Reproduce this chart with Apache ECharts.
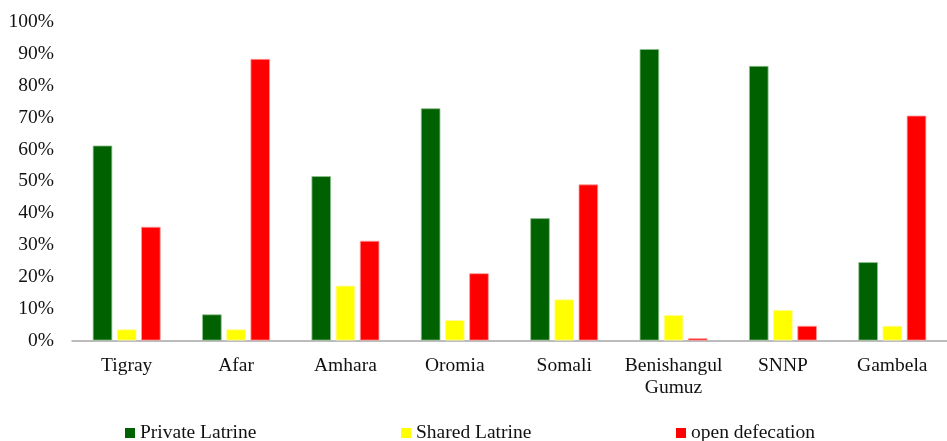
<!DOCTYPE html>
<html>
<head>
<meta charset="utf-8">
<script src="https://cdn.jsdelivr.net/npm/echarts@6/dist/echarts.min.js"></script>
<style>
  html, body { margin: 0; padding: 0; background: #fff; }
  #chart { width: 947px; height: 441px; }
</style>
</head>
<body>
<div id="chart"></div>
<script>
// Regions of Ethiopia and share of households by sanitation type (%)
const regions = ['Tigray', 'Afar', 'Amhara', 'Oromia', 'Somali', 'Benishangul\nGumuz', 'SNNP', 'Gambela'];
const privateLatrine = [61.2, 8.2, 51.6, 72.9, 38.4, 91.5, 86.2, 24.6];
const sharedLatrine  = [3.5, 3.5, 17.2, 6.4, 12.9, 8.0, 9.6, 4.6];
const openDefecation = [35.7, 88.4, 31.3, 21.1, 49.0, 0.7, 4.6, 70.6];
const yTicks = [0, 10, 20, 30, 40, 50, 60, 70, 80, 90, 100];

const serif = '"Liberation Serif", "Times New Roman", serif';
const chart = echarts.init(document.getElementById('chart'), null, { renderer: 'canvas' });

function barSeries(name, data, color, border) {
  return {
    name: name,
    type: 'bar',
    data: data,
    barWidth: 19.5,
    barGap: '24%',
    itemStyle: { color: color, borderColor: border, borderWidth: 0.8 }
  };
}

function legendAt(name, left) {
  return {
    data: [name],
    left: left,
    top: 423,
    icon: 'rect',
    itemWidth: 10,
    itemHeight: 10,
    padding: 0,
    itemStyle: { borderWidth: 0 },
    textStyle: { fontFamily: serif, fontSize: 19.5, color: '#111' }
  };
}

chart.setOption({
  animation: false,
  backgroundColor: '#fff',
  grid: { left: 72, right: -10, top: 22, bottom: 100.5, containLabel: false },
  legend: [
    legendAt('Private Latrine', 125),
    legendAt('Shared Latrine', 401),
    legendAt('open defecation', 676)
  ],
  xAxis: {
    type: 'category',
    data: regions,
    axisLine: { show: true, lineStyle: { color: '#a6a6a6', width: 1.5 } },
    axisTick: { show: false },
    axisLabel: {
      fontFamily: serif, fontSize: 19.5, color: '#111',
      margin: 14, lineHeight: 22, interval: 0
    }
  },
  yAxis: {
    type: 'value',
    min: yTicks[0],
    max: yTicks[yTicks.length - 1],
    interval: 10,
    axisLine: { show: false },
    axisTick: { show: false },
    splitLine: { show: false },
    axisLabel: {
      fontFamily: serif, fontSize: 19.5, color: '#111', margin: 18,
      formatter: v => v + '%'
    }
  },
  series: [
    barSeries('Private Latrine', privateLatrine, '#006100', '#8fc08f'),
    barSeries('Shared Latrine', sharedLatrine, '#ffff00', '#fffaa0'),
    barSeries('open defecation', openDefecation, '#ff0000', '#ff9a9a')
  ]
});
</script>
</body>
</html>
